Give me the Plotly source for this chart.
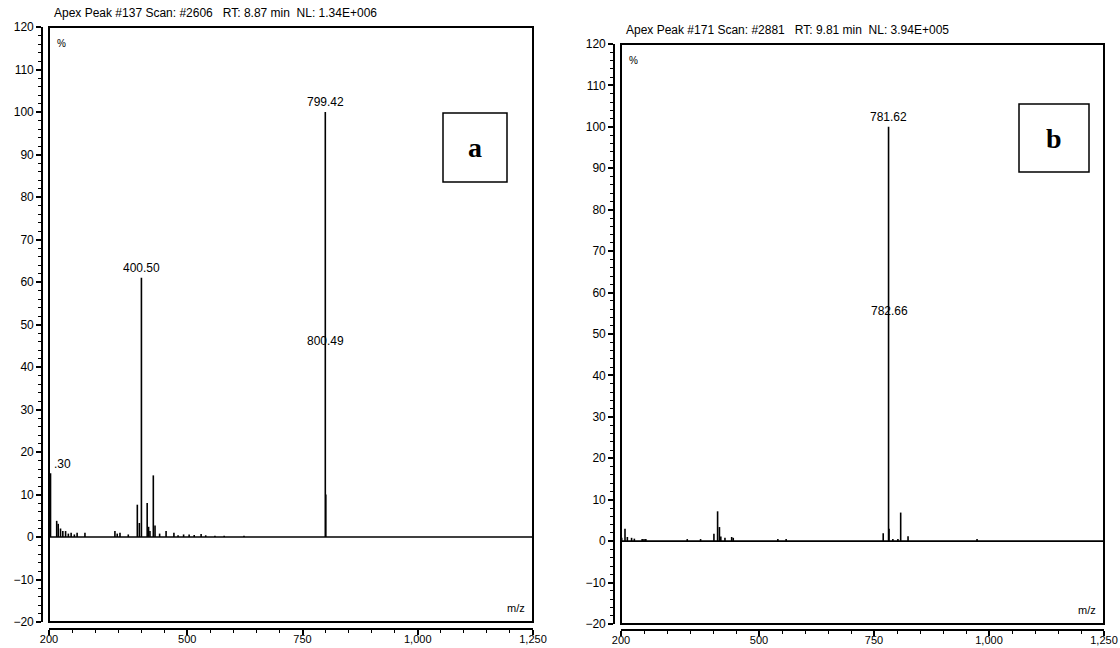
import plotly.graph_objects as go

W, H = 1120, 648

# ---- spectrum a: scan #2606 (m/z, relative intensity %) ----
a_mz = [203.3, 216.7, 220.0, 225.0, 230.0, 236.0, 242.0, 248.0, 255.0, 261.0,
        278.0, 343.0, 348.0, 354.0, 372.0, 391.6, 396.0, 400.50, 413.0, 416.0,
        419.0, 426.3, 430.0, 440.0, 454.0, 471.0, 480.0, 492.0, 504.0, 515.0,
        530.0, 540.0, 560.0, 580.0, 623.0, 799.42, 800.49]
a_int = [15.0, 3.8, 3.1, 2.0, 1.4, 1.4, 0.8, 1.0, 0.6, 1.0,
         1.0, 1.4, 0.8, 1.0, 0.6, 7.6, 3.3, 61.0, 8.0, 2.4,
         1.4, 14.5, 2.7, 0.8, 1.4, 1.0, 0.4, 0.6, 0.6, 0.5,
         0.7, 0.4, 0.3, 0.3, 0.3, 100.0, 10.0]

# ---- spectrum b: scan #2881 ----
b_mz = [201.5, 208.7, 213.8, 223.0, 229.0, 246.0, 250.0, 254.0, 344.0, 373.0,
        402.0, 410.0, 414.0, 417.0, 426.0, 440.6, 444.0, 541.0, 559.0, 770.0,
        781.62, 782.66, 791.0, 802.0, 808.0, 824.0, 974.0]
b_int = [0.8, 3.0, 1.0, 0.8, 0.6, 0.5, 0.5, 0.5, 0.5, 0.5,
         1.8, 7.2, 3.4, 1.1, 0.8, 1.0, 0.8, 0.5, 0.5, 1.9,
         100.0, 3.0, 0.5, 0.5, 6.9, 1.2, 0.5]

# peak labels: (m/z, label height %, text, vertical anchor)
a_labels = [(799.42, 100.0, "799.42", "bottom"), (800.49, 46.1, "800.49", "middle"),
            (400.50, 61.0, "400.50", "bottom")]
b_labels = [(781.62, 100.0, "781.62", "bottom"), (782.66, 55.6, "782.66", "middle")]

x_tickvals = [200, 500, 750, 1000, 1250]
x_ticktext = ["200", "500", "750", "1,000", "1,250"]
y_tickvals = list(range(-20, 121, 10))

headers = ["Apex Peak #137 Scan: #2606   RT: 8.87 min  NL: 1.34E+006",
           "Apex Peak #171 Scan: #2881   RT: 9.81 min  NL: 3.94E+005"]
panel_tags = ["a", "b"]

FONT = "Liberation Sans, Arial, sans-serif"

# pixel geometry of each panel: data box left/right/top/bottom, axis offsets
panels = [
    dict(l=49, r=533, t=27, b=622, yax=42, xax=629),
    dict(l=621, r=1104, t=44, b=624, yax=614, xax=630),
]


def sticks(mz, inten):
    xs, ys = [], []
    for m, h in zip(mz, inten):
        xs += [m, m, None]
        ys += [0, h, None]
    return xs, ys


fig = go.Figure()

for i, (mz, inten) in enumerate([(a_mz, a_int), (b_mz, b_int)]):
    xs, ys = sticks(mz, inten)
    sfx = "" if i == 0 else "2"
    fig.add_trace(go.Scatter(x=xs, y=ys, mode="lines",
                             line=dict(color="black", width=1.6),
                             xaxis="x" + sfx, yaxis="y" + sfx,
                             hoverinfo="skip", showlegend=False))

layout = dict(width=W, height=H, margin=dict(l=0, r=0, t=0, b=0),
              paper_bgcolor="white", plot_bgcolor="white",
              font=dict(family=FONT, size=12, color="black"),
              showlegend=False)

shapes, annotations = [], []
for i, p in enumerate(panels):
    sfx = "" if i == 0 else "2"
    xname, yname = "xaxis" + sfx, "yaxis" + sfx
    xref, yref = "x" + sfx, "y" + sfx
    layout[xname] = dict(
        domain=[p["l"] / W, p["r"] / W], range=[200, 1250],
        anchor="free", position=1 - p["xax"] / H,
        showline=True, linecolor="black", linewidth=1.6,
        ticks="outside", ticklen=5, tickwidth=1.5, tickcolor="black",
        tickmode="array", tickvals=x_tickvals, ticktext=x_ticktext,
        ticklabelstandoff=-5,
        minor=dict(tickmode="linear", tick0=200, dtick=50, ticks="outside",
                   ticklen=3, tickwidth=1.3, tickcolor="black", showgrid=False),
        showgrid=False, zeroline=False, automargin=False,
        tickfont=dict(family=FONT, size=11, color="black"), fixedrange=True)
    layout[yname] = dict(
        domain=[1 - p["b"] / H, 1 - p["t"] / H], range=[-20, 120],
        anchor="free", position=p["yax"] / W,
        showline=True, linecolor="black", linewidth=1.6,
        ticks="outside", ticklen=5, tickwidth=1.5, tickcolor="black",
        tickmode="array", tickvals=y_tickvals,
        minor=dict(tickmode="linear", tick0=0, dtick=2, ticks="outside",
                   ticklen=3, tickwidth=1.2, tickcolor="black", showgrid=False),
        showgrid=False, zeroline=False, automargin=False,
        tickfont=dict(family=FONT, size=12, color="black"), fixedrange=True)

    # data frame and zero baseline
    shapes.append(dict(type="rect", xref=xref + " domain", yref=yref + " domain",
                       x0=0, x1=1, y0=0, y1=1,
                       line=dict(color="black", width=2)))
    shapes.append(dict(type="line", xref=xref + " domain", yref=yref,
                       x0=0, x1=1, y0=0, y1=0,
                       line=dict(color="black", width=1.6)))

    # scan header
    annotations.append(dict(text=headers[i], xref="paper", yref="paper",
                            x=(p["l"] + 3) / W, y=1 - (p["t"] - 14) / H,
                            xanchor="left", yanchor="middle", showarrow=False,
                            font=dict(family=FONT, size=12, color="black")))
    # % and m/z captions
    annotations.append(dict(text="%", xref="paper", yref="paper",
                            x=(p["l"] + 6) / W, y=1 - (p["t"] + 17) / H,
                            xanchor="left", yanchor="middle", showarrow=False,
                            font=dict(family=FONT, size=10, color="black")))
    annotations.append(dict(text="m/z", xref="paper", yref="paper",
                            x=(p["r"] - 6) / W, y=1 - (p["b"] - 14) / H,
                            xanchor="right", yanchor="middle", showarrow=False,
                            font=dict(family=FONT, size=11, color="black")))

    # panel tag box
    tag_box = [(443, 507, 113, 182), (1019, 1089, 104, 172)][i]
    shapes.append(dict(type="rect", xref="paper", yref="paper",
                       x0=tag_box[0] / W, x1=tag_box[1] / W,
                       y0=1 - tag_box[3] / H, y1=1 - tag_box[2] / H,
                       line=dict(color="black", width=1.5), fillcolor="white"))
    annotations.append(dict(text="<b>%s</b>" % panel_tags[i], xref="paper", yref="paper",
                            x=(tag_box[0] + tag_box[1]) / 2 / W,
                            y=1 - (tag_box[2] + tag_box[3]) / 2 / H,
                            xanchor="center", yanchor="middle", showarrow=False,
                            font=dict(family="Liberation Serif, Times New Roman, serif",
                                      size=28, color="black")))

# peak labels
for sfx, labels in [("", a_labels), ("2", b_labels)]:
    for m, h, txt, anchor in labels:
        annotations.append(dict(text=txt, x=m, y=h, xref="x" + sfx, yref="y" + sfx,
                                xanchor="center", yanchor=anchor, showarrow=False,
                                yshift=1 if anchor == "bottom" else 0,
                                font=dict(family=FONT, size=12, color="black")))

# clipped label of the low-mass peak in spectrum a
annotations.append(dict(text=".30", x=a_mz[0], y=17.2, xref="x", yref="y",
                        xanchor="left", yanchor="middle", showarrow=False, xshift=1,
                        font=dict(family=FONT, size=12, color="black")))

layout["shapes"] = shapes
layout["annotations"] = annotations
fig.update_layout(**layout)

fig.write_html("out.html")
